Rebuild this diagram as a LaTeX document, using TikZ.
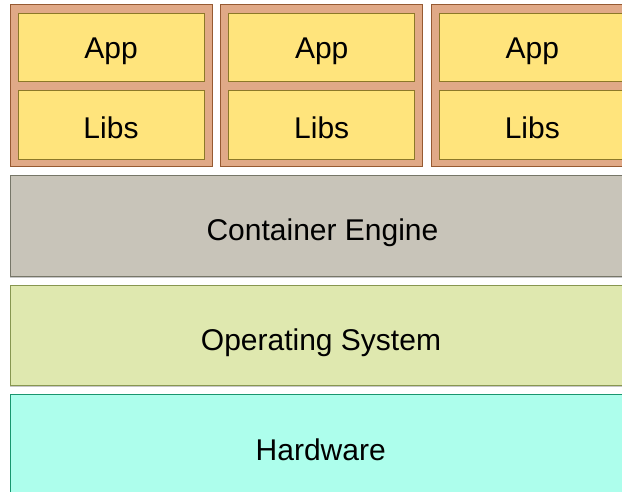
\documentclass[tikz,border=0pt]{standalone}
\usepackage{fontspec}
\setmainfont{Liberation Sans}
\definecolor{cfill}{RGB}{224,169,135}
\definecolor{cdraw}{RGB}{150,90,50}
\definecolor{yfill}{RGB}{255,228,124}
\definecolor{ydraw}{RGB}{140,120,40}
\definecolor{efill}{RGB}{200,196,185}
\definecolor{edraw}{RGB}{118,118,104}
\definecolor{ofill}{RGB}{223,232,175}
\definecolor{odraw}{RGB}{135,150,80}
\definecolor{hfill}{RGB}{173,254,236}
\definecolor{hdraw}{RGB}{25,150,110}
\tikzset{
  box/.style={rectangle, inner sep=0pt, outer sep=0pt, line width=1pt, anchor=north west},
  outerbox/.style={box, fill=cfill, draw=cdraw, minimum width=202pt, minimum height=162pt},
  innerbox/.style={box, fill=yfill, draw=ydraw, minimum width=186pt, minimum height=68pt},
  layer/.style={box, minimum width=640pt, minimum height=101pt,
    preaction={draw=black!22, line width=1pt, transform canvas={yshift=-1.5pt}}},
  lbl/.style={anchor=base, inner sep=0pt, font=\fontsize{30}{36}\selectfont}
}
\begin{document}
\begin{tikzpicture}[x=1pt,y=-1pt]
\useasboundingbox (0,0) rectangle (622,491);
\begin{scope}
\clip (0,0) rectangle (622,491);
% containers
\foreach \i/\x in {1/10,2/220.7,3/431.3}{
  \node[outerbox] (c\i) at (\x,4) {};
  \node[innerbox] (app\i) at (\x+8,13) {};
  \node[innerbox, minimum height=69pt] (lib\i) at (\x+8,90) {};
  \node[lbl] (appt\i) at (\x+101,58) {App};
  \node[lbl] (libt\i) at (\x+101,138.3) {Libs};
}
% layers
\node[layer, fill=efill, draw=edraw] (engine) at (10,175) {};
\node[lbl] (enginet) at (322.5,240) {Container Engine};
\node[layer, fill=ofill, draw=odraw, minimum height=100pt] (os) at (10,285) {};
\node[lbl] (ost) at (321,350.3) {Operating System};
\node[layer, fill=hfill, draw=hdraw] (hw) at (10,394) {};
\node[lbl] (hwt) at (320.7,460.5) {Hardware};
\end{scope}
\end{tikzpicture}
\end{document}
